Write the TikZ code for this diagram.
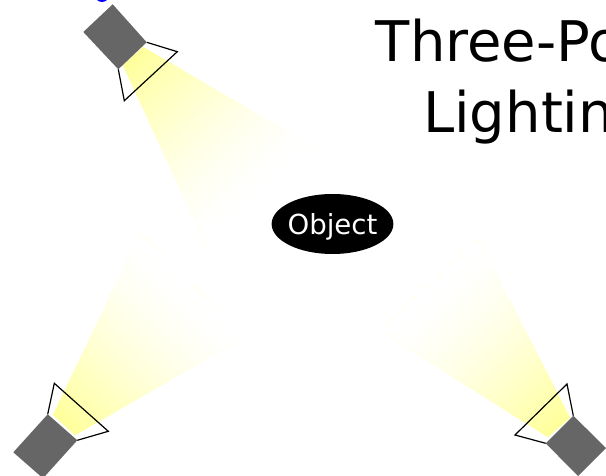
\documentclass[tikz,border=0pt]{standalone}
\usepackage{fontspec}
\usetikzlibrary{shapes.geometric}
\setmainfont{DejaVu Sans}
\definecolor{beamc}{HTML}{FFFF99}
\definecolor{lampc}{HTML}{666666}
\tikzset{
  px/.style={x=1pt,y=-1pt},
  lamp/.style={fill=lampc,draw=none},
  hood/.style={draw=black,line width=1.2pt,line join=miter,fill=none},
  title/.style={anchor=base west,inner sep=0pt,font=\fontsize{56}{56}\selectfont}
}
\newcommand{\beam}[3]{%
  \begin{scope}
    \clip #1;
    \begin{scope}[shift={#2},rotate=#3]
      \foreach \i in {0,...,62}{%
        \pgfmathsetmacro{\xs}{\i*3}%
        \pgfmathsetmacro{\pct}{100*(max(0,1-\xs/186))^1.5}%
        \fill[beamc!\pct!white] (\xs-3,-300) rectangle (300,300);
      }
    \end{scope}
  \end{scope}%
}
\begin{document}
\begin{tikzpicture}[px]
\useasboundingbox (0,0) rectangle (606,476);
\clip (0,0) rectangle (606,476);
\fill[white] (0,0) rectangle (606,476);
% beams
\beam{(143,47)--(311,147)--(208.7,249)--(123,65)--cycle}{(133,56)}{-46}
\beam{(53,415)--(141,234)--(245,336)--(75,435)--cycle}{(64,425)}{46}
\beam{(570,418)--(478,240)--(380,330)--(548,437)--cycle}{(559,427)}{134}
% lamps
\fill[lamp] (112.7,4.3)--(83.3,32)--(118.3,69.3)--(146.7,42.3)--cycle;
\fill[lamp] (47.7,414.3)--(13.3,452.3)--(43,478.3)--(77.3,440.3)--cycle;
\fill[lamp] (573.3,415.7)--(545.7,443.3)--(578,476)--(606,448)--cycle;
% hoods
\draw[hood] (146.7,42.3)--(177.3,51.7)--(124.3,100.7)--(118.3,69.3);
\draw[hood] (47.7,414.3)--(54.3,383.3)--(108.3,431.3)--(77.3,440.3);
\draw[hood] (573.3,415.7)--(567,384)--(515,435)--(545.7,443.3);
% blue mark
\fill[blue] (102,-5) circle (7);
% object
\node[ellipse,fill=black,inner xsep=-1.9pt,inner ysep=0pt,minimum height=60pt,text=white,text height=24pt,text depth=3.4pt,font=\fontsize{27.6}{28}\selectfont] (object) at (332.5,224) {Object};
% title
\node[title] (t1) at (375.6,61.7) {Three-Po};
\node[title] (t2) at (423,132.3) {Lightin};
\end{tikzpicture}
\end{document}
